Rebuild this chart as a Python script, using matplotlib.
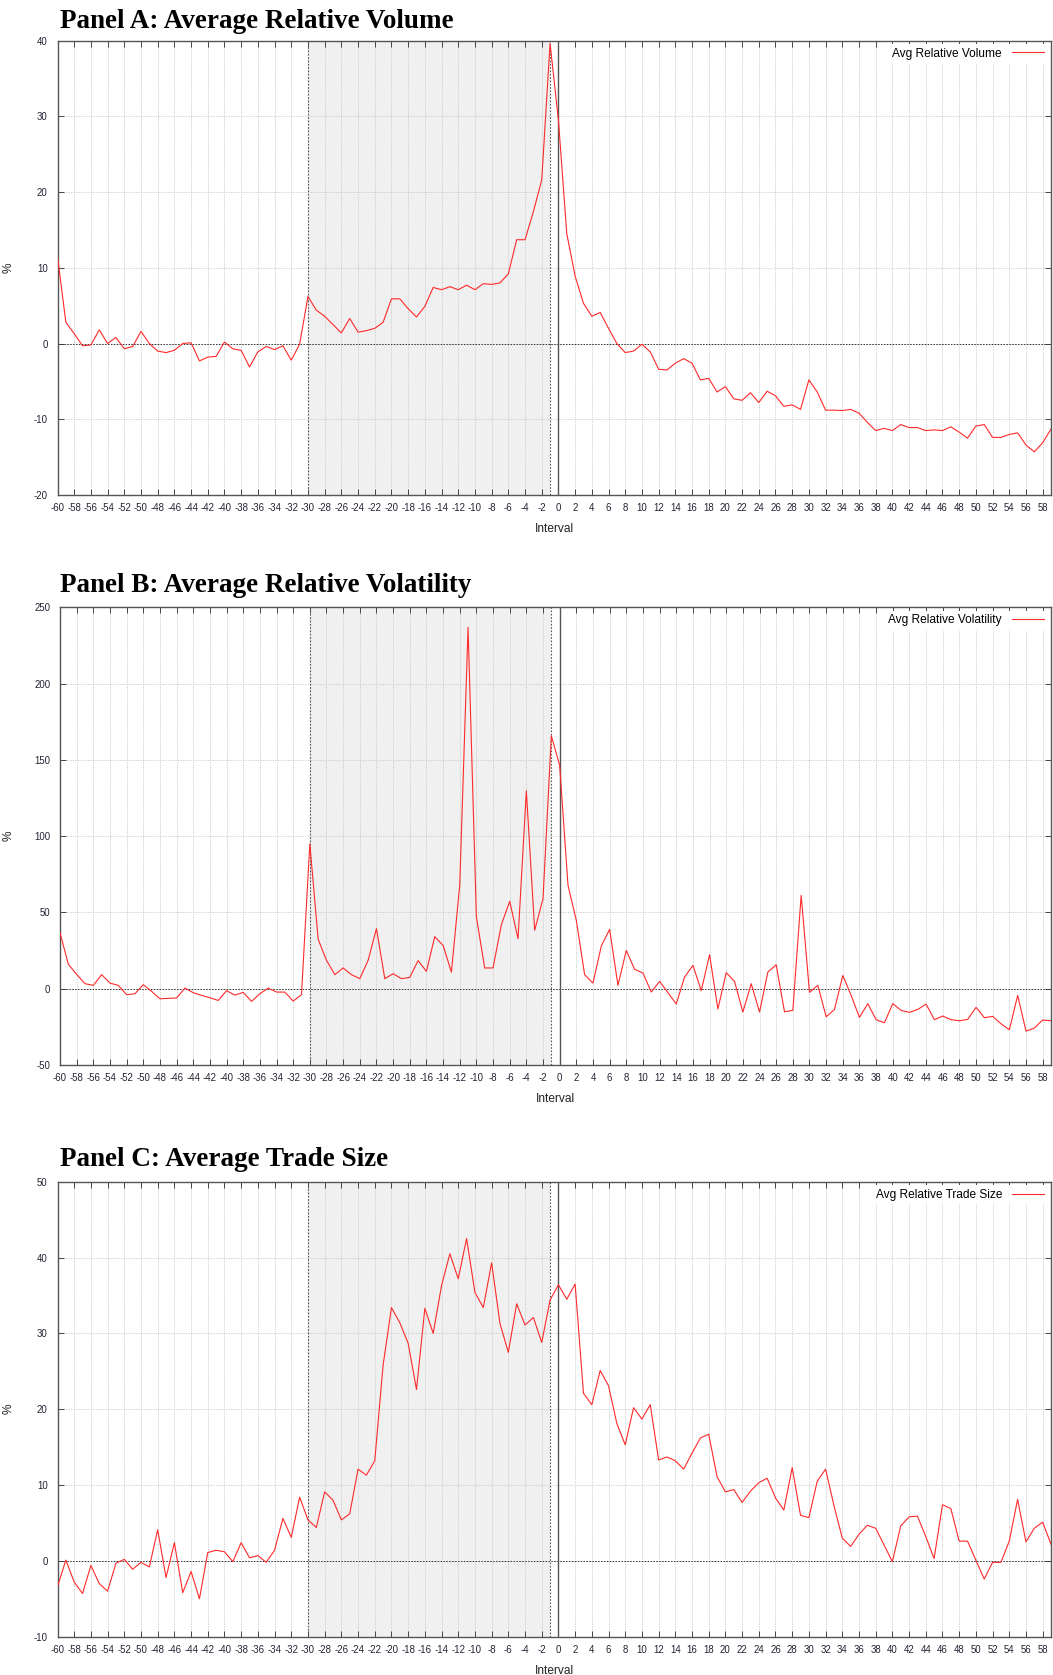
import numpy as np
import matplotlib
matplotlib.use("Agg")
import matplotlib.pyplot as plt

# ---------------- data ----------------
intervals = np.arange(-60, 60)

volume = [11.5, 2.8, 1.3, -0.3, -0.2, 1.8, 0.0, 0.8, -0.7, -0.4,
          1.6, 0.0, -1.0, -1.2, -0.9, 0.0, 0.1, -2.3, -1.8, -1.7,
          0.2, -0.7, -0.9, -3.1, -1.1, -0.4, -0.8, -0.3, -2.2, -0.1,
          6.2, 4.4, 3.6, 2.5, 1.4, 3.3, 1.5, 1.7, 2.0, 2.8,
          5.9, 5.9, 4.6, 3.5, 4.9, 7.4, 7.1, 7.5, 7.1, 7.7,
          7.1, 7.9, 7.8, 8.0, 9.2, 13.7, 13.7, 17.4, 21.6, 39.6,
          29.5, 14.5, 8.9, 5.3, 3.6, 4.1, 2.0, 0.0, -1.2, -1.0,
          -0.1, -1.1, -3.4, -3.5, -2.6, -2.0, -2.6, -4.8, -4.6, -6.4,
          -5.7, -7.3, -7.5, -6.5, -7.8, -6.3, -6.9, -8.3, -8.1, -8.7,
          -4.8, -6.4, -8.8, -8.8, -8.85, -8.7, -9.2, -10.4, -11.5, -11.2,
          -11.5, -10.7, -11.1, -11.1, -11.5, -11.4, -11.5, -11.0, -11.7, -12.5,
          -10.9, -10.7, -12.4, -12.4, -12.0, -11.8, -13.4, -14.3, -13.1, -11.3]

volatility = [36.7, 16, 9.4, 3.3, 2.2, 9.2, 3.7, 2.2, -3.9, -3.3,
              2.6, -1.7, -6.6, -6.3, -6.1, 0.4, -2.6, -4.4, -5.9, -7.7,
              -1.3, -4.2, -2.4, -8.3, -3.3, 0.4, -2.2, -2.2, -8.1, -3.9,
              95, 32.4, 18.6, 9.2, 13.6, 9.2, 6.6, 18.6, 39.4, 6.6,
              9.8, 6.6, 7.4, 18.4, 11.4, 34.1, 28.4, 10.9, 67.8, 236.9,
              47, 13.6, 13.6, 42, 57.3, 32.8, 129.7, 38.3, 59, 165.8,
              146.4, 67.8, 44.8, 9.2, 3.7, 28, 38.9, 2.2, 25.1, 12.7,
              10.3, -2.2, 4.8, -2.6, -10, 7.7, 15.3, -1.3, 22.3, -13.3,
              10.5, 4.8, -15.3, 3.3, -15.3, 10.9, 15.7, -15.1, -14.2, 61.2,
              -2.4, 2.2, -18.4, -13.6, 8.7, -4.4, -18.8, -9.8, -20.3, -22.3,
              -9.8, -14.2, -15.5, -13.6, -10.1, -20.3, -17.9, -20.3, -21, -20.1,
              -12.2, -19, -18.1, -23, -26.9, -4.4, -27.8, -25.8, -20.5, -21]

trade_size = [-3.4, 0.1, -2.8, -4.3, -0.6, -3.0, -4.0, -0.3, 0.2, -1.1,
              -0.2, -0.8, 4.1, -2.2, 2.4, -4.2, -1.4, -5.0, 1.1, 1.4,
              1.2, -0.1, 2.4, 0.4, 0.7, -0.2, 1.4, 5.6, 3.1, 8.4,
              5.4, 4.4, 9.1, 8.0, 5.4, 6.2, 12.1, 11.3, 13.2, 25.8,
              33.4, 31.4, 28.7, 22.6, 33.3, 30.0, 36.3, 40.5, 37.2, 42.5,
              35.4, 33.4, 39.3, 31.3, 27.5, 33.9, 31.1, 32.1, 28.8, 34.4,
              36.4, 34.5, 36.5, 22.1, 20.6, 25.1, 23.1, 18.1, 15.3, 20.2,
              18.7, 20.6, 13.3, 13.7, 13.2, 12.1, 14.2, 16.2, 16.7, 11.1,
              9.1, 9.4, 7.7, 9.2, 10.3, 10.9, 8.3, 6.7, 12.3, 6.0,
              5.7, 10.5, 12.1, 7.3, 3.0, 1.9, 3.5, 4.7, 4.3, 2.1,
              -0.1, 4.6, 5.8, 5.9, 3.2, 0.3, 7.4, 6.9, 2.6, 2.6,
              0.1, -2.4, -0.2, -0.2, 2.6, 8.1, 2.5, 4.3, 5.1, 2.2]

titles = ["Panel A: Average Relative Volume",
          "Panel B: Average Relative Volatility",
          "Panel C: Average Trade Size"]
legends = ["Avg Relative Volume", "Avg Relative Volatility", "Avg Relative Trade Size"]
y_ticks = [[-20, -10, 0, 10, 20, 30, 40],
           [-50, 0, 50, 100, 150, 200, 250],
           [-10, 0, 10, 20, 30, 40, 50]]
x_ticks = list(range(-60, 59, 2))
window = (-30, -1)

# ---------------- figure ----------------
W, H = 1053, 1675
fig = plt.figure(figsize=(W / 100, H / 100), dpi=100)

# axes boxes in pixels: (left, top, right, bottom)
boxes = [(57.5, 40.5, 1051, 495),
         (60, 607.3, 1051, 1065),
         (57.5, 1181.7, 1051, 1636.7)]
title_baselines = [28.5, 591.5, 1166]

tick_font = "Liberation Sans"
series = [volume, volatility, trade_size]

for i in range(3):
    l, t, r, b = boxes[i]
    ax = fig.add_axes([l / W, 1 - b / H, (r - l) / W, (b - t) / H])
    yt = y_ticks[i]
    ax.set_xlim(-60, 59)
    ax.set_ylim(yt[0], yt[-1])

    ax.axvspan(window[0], window[1], color="#f0f0f0", zorder=0, lw=0)
    ax.set_xticks(x_ticks)
    ax.set_yticks(yt)
    ax.grid(True, color="#c8c8c8", linestyle=(0, (1.5, 1.5)), linewidth=0.6, zorder=1)
    ax.set_axisbelow(True)

    ax.axhline(0, color="#333333", linestyle=(0, (1.5, 1.5)), linewidth=0.7, zorder=2)
    ax.axvline(window[0], color="#555555", linestyle=(0, (1.5, 1.5)), linewidth=0.8, zorder=2)
    ax.axvline(window[1], color="#555555", linestyle=(0, (1.5, 1.5)), linewidth=0.8, zorder=2)
    ax.axvline(0, color="#555555", linestyle="-", linewidth=1.0, zorder=2)

    ax.plot(intervals, series[i], color="#ff2a2a", linewidth=0.8, zorder=3, label=legends[i])

    for s in ax.spines.values():
        s.set_color("#555555")
        s.set_linewidth(1.0)

    ax.tick_params(axis="both", which="major", direction="in", length=4, width=0.7,
                   color="#444444", top=True, right=True, labelsize=6.9,
                   labelcolor="#222233")
    ax.tick_params(axis="x", pad=6)
    ax.tick_params(axis="y", pad=7)
    ax.set_xticklabels([str(v) for v in x_ticks])
    ax.set_yticklabels([str(v) for v in yt])
    for lab in ax.get_xticklabels() + ax.get_yticklabels():
        lab.set_family(tick_font)

    ax.set_xlabel("Interval", family=tick_font, fontsize=8.6, color="#222222", labelpad=7)
    ax.set_ylabel("%", family=tick_font, fontsize=8.6, color="#222222", labelpad=14)

    leg = ax.legend(loc="upper right", markerfirst=False, frameon=True,
                    prop={"family": tick_font, "size": 8.6}, handlelength=2.7,
                    borderaxespad=0.3, borderpad=0.3, handletextpad=0.8)
    leg.get_frame().set_facecolor("white")
    leg.get_frame().set_edgecolor("none")
    leg.get_frame().set_alpha(1.0)
    leg.get_frame().set_boxstyle("square", pad=0)

    fig.text(60 / W, 1 - title_baselines[i] / H, titles[i], family="Liberation Serif",
             fontweight="bold", fontsize=19.5, va="baseline", ha="left", color="black")

fig.savefig("out.png", dpi=100)
